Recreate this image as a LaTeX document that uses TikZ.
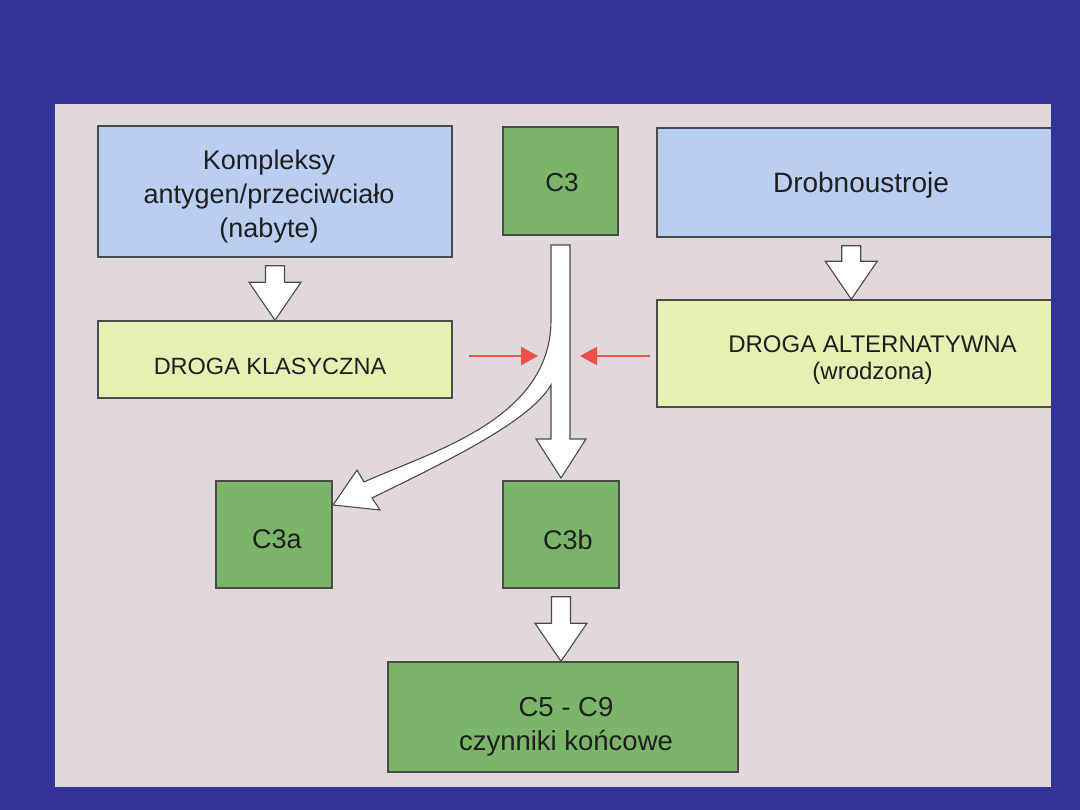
\documentclass[tikz,border=0pt]{standalone}
\usepackage{fontspec}
\setmainfont{Liberation Sans}
\usetikzlibrary{arrows.meta,calc}

\definecolor{navy}{RGB}{51,51,153}
\definecolor{panel}{RGB}{224,216,218}
\definecolor{skyfill}{RGB}{186,206,242}
\definecolor{limefill}{RGB}{230,240,178}
\definecolor{leaffill}{RGB}{122,181,106}
\definecolor{edge}{RGB}{75,75,75}
\definecolor{redline}{RGB}{238,78,70}

\tikzset{
  box/.style={draw=edge, line width=1.5pt, inner sep=0pt},
  skybox/.style={box, fill=skyfill},
  limebox/.style={box, fill=limefill},
  leafbox/.style={box, fill=leaffill},
  txt/.style={inner sep=0pt, align=center, text=black!88},
  hollow/.style={draw=edge, fill=white, line width=1.1pt, line join=miter},
  redarrow/.style={draw=redline, line width=2pt, -{Triangle[length=17pt,width=18pt]}},
}

% hollow block arrow: shaft under #1, tip on #2
\newcommand\hollowarrow[2]{%
  \draw[hollow] let \p1=(#1), \p2=(#2) in
    (\x1-9.5pt,\y1-8pt) -- (\x1+9.5pt,\y1-8pt) -- (\x1+9.5pt,\y2+38pt) -- (\x1+26pt,\y2+38pt)
    -- (\x1,\y2) -- (\x1-26pt,\y2+38pt) -- (\x1-9.5pt,\y2+38pt) -- cycle;}

\begin{document}
\begin{tikzpicture}[x=1pt, y=-1pt]
  \useasboundingbox (0,0) rectangle (1080,810);
  % background and panel
  \fill[navy] (0,0) rectangle (1080,810);
  \fill[panel] (55,104) rectangle (1051,787);

  % boxes
  \node[skybox, minimum width=354pt, minimum height=131pt] (komp) at (275,191.5) {};
  \node[leafbox, minimum width=115pt, minimum height=108pt] (c3) at (560.5,181) {};
  \node[skybox, minimum width=404pt, minimum height=109pt] (drob) at (859,182.5) {};
  \node[limebox, minimum width=354pt, minimum height=77pt] (klas) at (275,359.5) {};
  \node[limebox, minimum width=404pt, minimum height=107pt] (alt) at (859,353.5) {};
  \node[leafbox, minimum width=116pt, minimum height=107pt] (c3a) at (274,534.5) {};
  \node[leafbox, minimum width=116pt, minimum height=107pt] (c3b) at (561,534.5) {};
  \node[leafbox, minimum width=350pt, minimum height=110pt] (c59) at (563,717) {};

  % texts
  \node[txt, font=\fontsize{27}{34}\selectfont] (komp-t) at ($(komp)+(-6,5)$)
    {Kompleksy\\antygen/przeciwciało\\(nabyte)};
  \node[txt, font=\fontsize{26}{30}\selectfont] (c3-t) at ($(c3)+(1.5,2)$) {C3};
  \node[txt, font=\fontsize{28}{32}\selectfont] (drob-t) at ($(drob)+(2,3)$) {Drobnoustroje};
  \node[txt, font=\fontsize{23.5}{28}\selectfont] (klas-t) at ($(klas)+(-5,7)$) {DROGA KLASYCZNA};
  \node[txt, font=\fontsize{24}{27}\selectfont] (alt-t) at ($(alt)+(13.5,7)$)
    {DROGA ALTERNATYWNA\\(wrodzona)};
  \node[txt, font=\fontsize{27}{30}\selectfont] (c3a-t) at ($(c3a)+(3,5)$) {C3a};
  \node[txt, font=\fontsize{27}{30}\selectfont] (c3b-t) at ($(c3b)+(7,5)$) {C3b};
  \node[txt, font=\fontsize{27.5}{34}\selectfont] (c59-t) at ($(c59)+(3,10)$)
    {C5 - C9\\czynniki końcowe};

  % hollow arrows
  \hollowarrow{komp.south}{klas.north}
  \hollowarrow{$(drob.south west)+(195,0)$}{alt.north}
  \hollowarrow{c3b.south}{c59.north}

  % split arrow from C3
  \draw[hollow] (551,245) -- (570,245) -- (570,439) -- (586,439) -- (561,478) -- (536,439) -- (551,439) -- (551,385)
    .. controls (530,420) and (460,455) .. (372,498) -- (380,510) -- (333,505) -- (357,470) -- (364,482)
    .. controls (430,452) and (551,420) .. (551,320) -- cycle;

  % red arrows
  \coordinate (inL) at (538,356);
  \coordinate (inR) at (580,356);
  \draw[redarrow] ($(klas.east |- inL)+(16,0)$) -- (inL);
  \draw[redarrow] ($(alt.west |- inR)+(-6,0)$) -- (inR);

  % right margin covers the cut boxes
  \fill[navy] (1051,0) rectangle (1080,810);
\end{tikzpicture}
\end{document}
